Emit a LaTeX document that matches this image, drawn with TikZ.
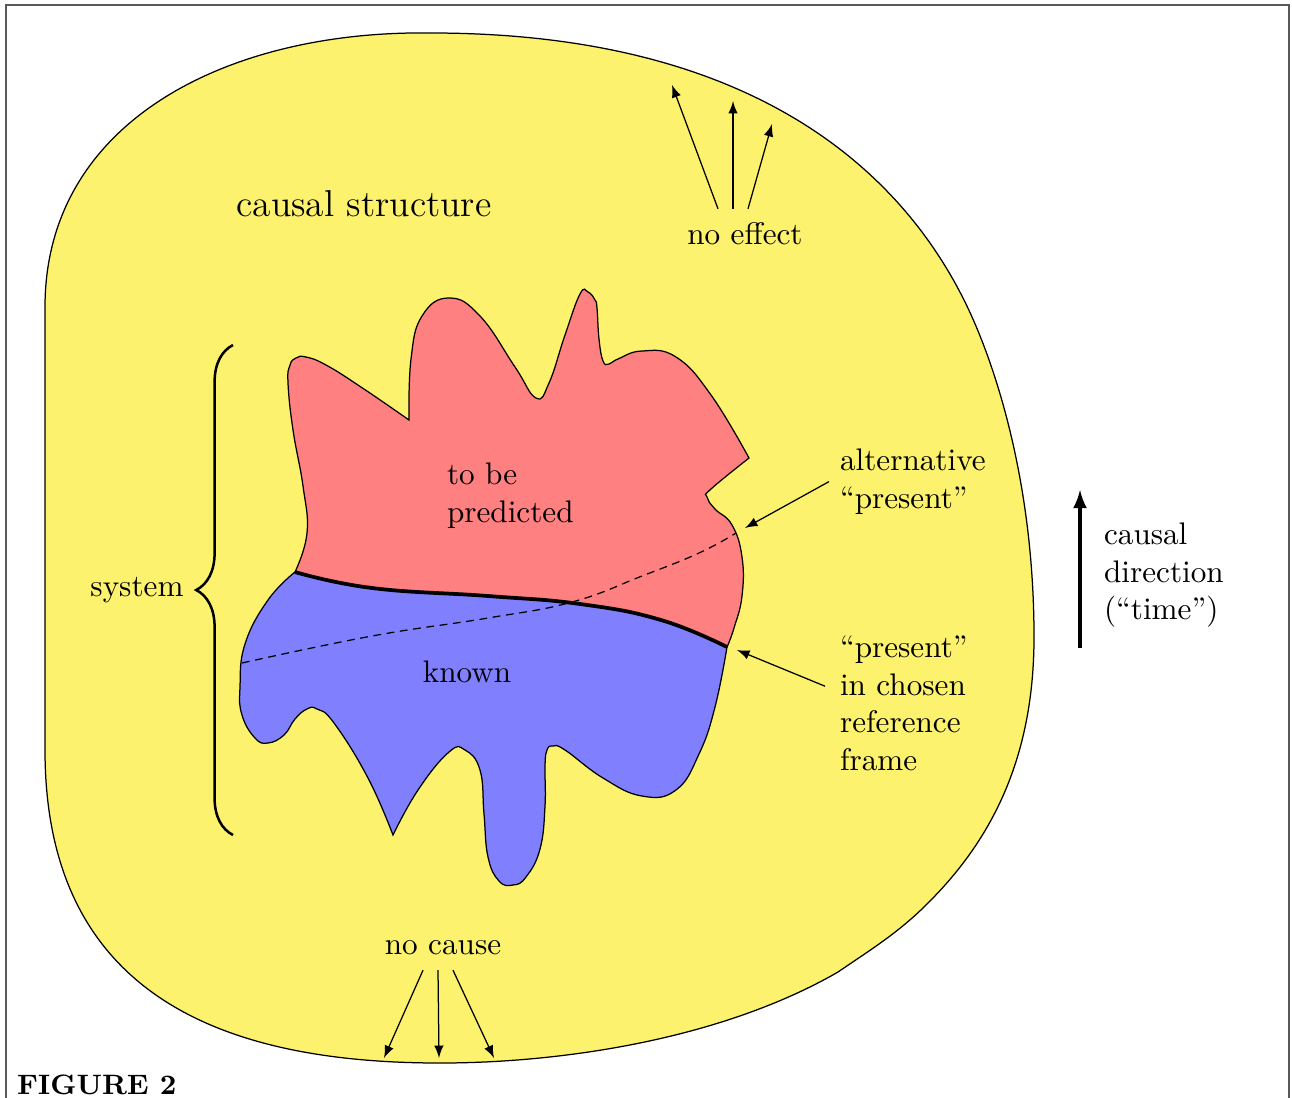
\documentclass[tikz,border=0pt]{standalone}
\usetikzlibrary{arrows,calc,decorations.pathreplacing}
\definecolor{causalyellow}{RGB}{253,242,110}
\definecolor{predred}{RGB}{255,128,128}
\definecolor{knownblue}{RGB}{128,128,255}
\begin{document}
\begin{tikzpicture}[x=0.3205pt,y=-0.3205pt,
  region/.style={draw=black,line width=0.4pt},
  blob/.style={smooth,tension=0.75},
  txt/.style={align=left,anchor=north west},
  pointer/.style={-latex,line width=0.4pt},
  presline/.style={line width=0.4pt,dash pattern=on 2.5pt off 1.8pt}]
\useasboundingbox (0,0) rectangle (1292,1097);
\clip (0,0) rectangle (1292,1097);
\draw[gray!70!black] (6,5) rectangle (1289,1120);

% causal structure
\filldraw[region,fill=causalyellow] (45,750) -- (45,307)
  .. controls (45,120) and (230,30) .. (431,33)
  .. controls (740,33) and (894,160) .. (964,300)
  .. controls (994,360) and (1034,480) .. (1034,637)
  .. controls (1034,760) and (990,840) .. (931,900)
  .. controls (900,932) and (870,950) .. (838,972)
  .. controls (720,1040) and (560,1063) .. (440,1063)
  .. controls (230,1063) and (45,1000) .. (45,750)
  -- cycle;

% system: to be predicted
\filldraw[region,fill=predred]
  plot[blob] coordinates {(295,572) (307,533) (303,486) (293,430) (288,383) (290,365) (296,358) (306,357) (326,365) (361,387) (409,420)}
  -- plot[blob] coordinates {(409,420) (411,359) (422,316) (449,298) (480,316) (515,367) (536,398) (549,383) (565,335) (580,294) (588,292) (595,300) (597,308) (599,339) (603,361) (609,364) (618,359) (642,351) (676,357) (711,395) (749,458)}
  -- plot[blob] coordinates {(749,458) (711,489) (707,497) (715,509) (732,525) (742,557) (742,596) (734,628) (727,647)}
  -- plot[blob] coordinates {(727,647) (661,620) (580,604) (488,596) (372,588) (295,572)}
  -- cycle;

% system: known
\filldraw[region,fill=knownblue]
  plot[blob] coordinates {(295,572) (268,600) (245,644) (240,687) (242,715) (255,738) (268,743) (284,735) (295,719) (307,709) (317,709) (334,723) (368,778) (393,835)}
  -- plot[blob] coordinates {(393,835) (418,790) (449,752) (465,750) (480,770) (484,814) (488,857) (499,881) (513,885) (526,877) (540,849) (545,806) (545,766) (547,750) (553,746) (565,750) (603,778) (642,796) (676,790) (699,754) (715,707) (727,647)}
  -- plot[blob] coordinates {(727,647) (661,620) (580,604) (488,596) (372,588) (295,572)}
  -- cycle;

% presents
\draw[presline] plot[blob] coordinates {(242,663) (372,636) (488,618) (572,602) (642,576) (699,553) (736,533)};
\draw[line width=1.2pt] plot[blob] coordinates {(295,572) (372,588) (488,596) (580,604) (661,620) (727,647)};

\draw[thick,decorate,decoration={brace,amplitude=11.8pt}] (233,835) -- (233,345);

\node[font=\large] (causalstructure) at (364,204) {causal structure};
\node (noeffect) at (745,234) {no effect};
\node (nocause) at (443,948) {no cause};
\node[txt] (tobepredicted) at (436,452) {to be\\predicted};
\node (known) at (467,672) {known};
\node (system) at (137,590) {system};
\node[txt] (altpresent) at (829,438) {alternative\\``present''};
\node[txt] (chosenpresent) at (829,625) {``present''\\in chosen\\reference\\frame};
\node[txt] (causaldir) at (1093,512) {causal\\direction\\(``time'')};
\node[font=\small\bfseries,anchor=west] (figlabel) at (6,1085) {FIGURE 2};

\coordinate (altpt) at (745,528);
\coordinate (chosenpt) at (737,650);
\coordinate (timetail) at (1080,648);
\coordinate (timehead) at (1080,490);

\draw[pointer] (altpresent.west) -- (altpt);
\draw[pointer] ($(chosenpresent.west)+(-4,-17)$) -- (chosenpt);
\draw[-latex,line width=1pt] (timetail) -- (timehead);

% no effect / no cause
\draw[pointer] ($(noeffect.north)+(-27,-3)$) -- (672,85);
\draw[pointer] ($(noeffect.north)+(-12,-3)$) -- (733,101);
\draw[pointer] ($(noeffect.north)+(3,-3)$) -- (772,124);
\draw[pointer] ($(nocause.south)+(-20,4)$) -- (384,1058);
\draw[pointer] ($(nocause.south)+(-5,4)$) -- (439,1058);
\draw[pointer] ($(nocause.south)+(10,4)$) -- (494,1058);
\end{tikzpicture}
\end{document}
